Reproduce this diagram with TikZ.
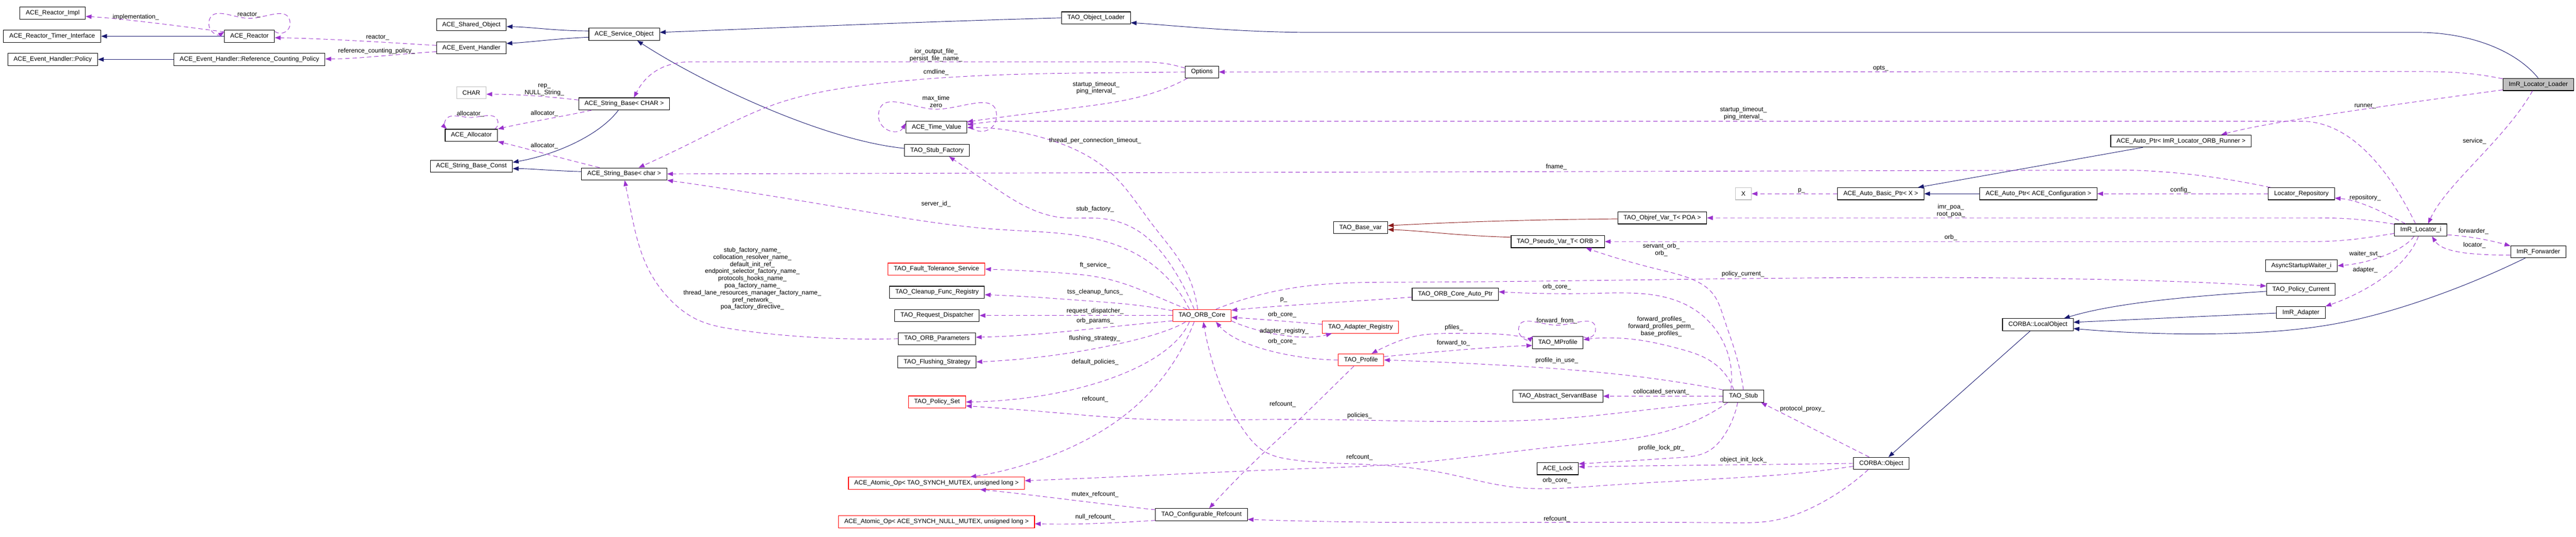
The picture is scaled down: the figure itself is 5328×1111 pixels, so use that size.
\documentclass[tikz,border=0pt]{standalone}
\usepackage{fontspec}
\setmainfont{Liberation Sans}
\usepackage{tikz}
\usetikzlibrary{arrows.meta,calc,hobby}

\definecolor{inhcol}{HTML}{191970}
\definecolor{depcol}{HTML}{9A32CD}
\definecolor{tmplcol}{HTML}{8B1A1A}
\definecolor{grycol}{HTML}{BFBFBF}

\tikzset{
  cls/.style={draw=black,fill=white,line width=1.2pt,minimum height=25pt,
              inner xsep=12pt,inner ysep=0pt,font=\fontsize{13}{15}\selectfont},
  redcls/.style={cls,draw=red},
  grycls/.style={cls,draw=grycol},
  rootcls/.style={cls,fill=grycol},
  lbl/.style={inner sep=0pt,align=center,font=\fontsize{13}{14.7}\selectfont},
  tip/.style={-{Triangle[length=12pt,width=9pt]}},
  inh/.style={tip,draw=inhcol,line width=1pt},
  tmpl/.style={tip,draw=tmplcol,line width=1pt},
  dep/.style={tip,draw=depcol,line width=1pt,dash pattern=on 9pt off 6pt},
}

\begin{document}
\begin{tikzpicture}[x=1pt,y=-1pt]
\useasboundingbox (0,0) rectangle (5328,1111);
%
% classes
  \node[cls] (rimpl) at (109,27) {ACE\_Reactor\_Impl};
  \node[cls] (rtimer) at (108,75) {ACE\_Reactor\_Timer\_Interface};
  \node[cls] (ehpol) at (109,123) {ACE\_Event\_Handler::Policy};
  \node[cls] (reactor) at (516,75) {ACE\_Reactor};
  \node[cls] (rcpol) at (516,123) {ACE\_Event\_Handler::Reference\_Counting\_Policy};
  \node[cls] (shobj) at (975,51) {ACE\_Shared\_Object};
  \node[cls] (evh) at (975,99) {ACE\_Event\_Handler};
  \node[grycls] (chr) at (975,192) {CHAR};
  \node[cls] (alloc) at (975,280) {ACE\_Allocator};
  \node[cls] (sbconst) at (975,344) {ACE\_String\_Base\_Const};
  \node[cls] (svcobj) at (1291,71) {ACE\_Service\_Object};
  \node[cls] (sbCHAR) at (1291,215) {ACE\_String\_Base< CHAR >};
  \node[cls] (sbchar) at (1291,360) {ACE\_String\_Base< char >};
  \node[cls] (tvalue) at (1937,263) {ACE\_Time\_Value};
  \node[cls] (stubfac) at (1938,311) {TAO\_Stub\_Factory};
  \node[redcls] (ftserv) at (1937,557) {TAO\_Fault\_Tolerance\_Service};
  \node[cls] (cleanup) at (1938,605) {TAO\_Cleanup\_Func\_Registry};
  \node[cls] (reqdisp) at (1938,653) {TAO\_Request\_Dispatcher};
  \node[cls] (orbparams) at (1938,701) {TAO\_ORB\_Parameters};
  \node[cls] (flushing) at (1938,749) {TAO\_Flushing\_Strategy};
  \node[redcls] (polset) at (1938,832) {TAO\_Policy\_Set};
  \node[redcls] (atommx) at (1937,1000) {ACE\_Atomic\_Op< TAO\_SYNCH\_MUTEX, unsigned long >};
  \node[redcls] (atomnull) at (1937,1080) {ACE\_Atomic\_Op< ACE\_SYNCH\_NULL\_MUTEX, unsigned long >};
  \node[cls] (objloader) at (2267,37) {TAO\_Object\_Loader};
  \node[cls] (options) at (2486,149) {Options};
  \node[redcls] (orbcore) at (2486,653) {TAO\_ORB\_Core};
  \node[cls] (cfgref) at (2485,1065) {TAO\_Configurable\_Refcount};
  \node[cls] (basevar) at (2814,471) {TAO\_Base\_var};
  \node[redcls] (adreg) at (2814,677) {TAO\_Adapter\_Registry};
  \node[redcls] (profile) at (2815,745) {TAO\_Profile};
  \node[cls] (autoptr) at (3010,609) {TAO\_ORB\_Core\_Auto\_Ptr};
  \node[cls] (pseudovar) at (3222,500) {TAO\_Pseudo\_Var\_T< ORB >};
  \node[cls] (mprofile) at (3222,709) {TAO\_MProfile};
  \node[cls] (servbase) at (3222,820) {TAO\_Abstract\_ServantBase};
  \node[cls] (acelock) at (3222,970) {ACE\_Lock};
  \node[cls] (objrefvar) at (3438,451) {TAO\_Objref\_Var\_T< POA >};
  \node[grycls] (xnode) at (3606,401) {X};
  \node[cls] (stub) at (3606,820) {TAO\_Stub};
  \node[cls] (autobasic) at (3890,401) {ACE\_Auto\_Basic\_Ptr< X >};
  \node[cls] (corbaobj) at (3891,959) {CORBA::Object};
  \node[cls] (autocfg) at (4216,401) {ACE\_Auto\_Ptr< ACE\_Configuration >};
  \node[cls] (localobj) at (4215,672) {CORBA::LocalObject};
  \node[cls] (autorunner) at (4511,292) {ACE\_Auto\_Ptr< ImR\_Locator\_ORB\_Runner >};
  \node[cls] (locrepo) at (4760,401) {Locator\_Repository};
  \node[cls] (waiter) at (4760,550) {AsyncStartupWaiter\_i};
  \node[cls] (polcur) at (4759,599) {TAO\_Policy\_Current};
  \node[cls] (imradapter) at (4759,647) {ImR\_Adapter};
  \node[cls] (locator) at (5007,476) {ImR\_Locator\_i};
  \node[rootcls] (loader) at (5250,175) {ImR\_Locator\_Loader};
  \node[cls] (forwarder) at (5250,521) {ImR\_Forwarder};
%
% inheritance
  \draw[inh] (reactor) -- (rtimer);
  \draw[inh] (rcpol) -- (ehpol);
  \draw[inh] ($(svcobj.west)+(0,-7)$) .. controls (1150,64) and (1100,56) .. ($(shobj.east)+(0,4)$);
  \draw[inh] ($(svcobj.west)+(0,6)$) .. controls (1150,80) and (1100,87) .. ($(evh.east)+(0,-9)$);
  \draw[inh] (objloader.west) .. controls (1900,45) and (1600,58) .. ($(svcobj.east)+(0,-4)$);
  \draw[inh] ($(stubfac.west)+(0,-4)$) .. controls (1700,290) and (1450,170) .. ($(svcobj.south)+(27,0)$);
  \draw[inh] ($(sbCHAR.south)+(-12,0)$) .. controls (1240,280) and (1150,320) .. ($(sbconst.east)+(0,-8)$);
  \draw[inh] ($(sbchar.west)+(0,-5)$) .. controls (1150,354) and (1100,349) .. ($(sbconst.east)+(0,5)$);
  \draw[inh] (loader.north) .. controls (5200,100) and (5100,67) .. (5000,67) -- (2700,67)
             .. controls (2550,66) and (2420,52) .. ($(objloader.east)+(0,10)$);
  \draw[inh] ($(autorunner.south)+(-79,0)$) -- ($(autobasic.north)+(77,0)$);
  \draw[inh] (autocfg) -- (autobasic);
  \draw[inh] ($(polcur.west)+(0,4)$) .. controls (4550,612) and (4380,625) .. ($(localobj.north)+(54,0)$);
  \draw[inh] ($(imradapter.west)+(0,1)$) .. controls (4550,655) and (4400,662) .. ($(localobj.east)+(0,-5)$);
  \draw[inh] ($(forwarder.south)+(-27,0)$) to[curve through={(5010,622) .. (4831,670) .. (4618,690) .. (4460,690)}] ($(localobj.east)+(0,8)$);
  \draw[inh] ($(localobj.south)+(-16,0)$) -- ($(corbaobj.north)+(15,0)$);
  \draw[tmpl] ($(objrefvar.west)+(0,2)$) .. controls (3100,455) and (2950,463) .. ($(basevar.east)+(0,-4)$);
  \draw[tmpl] ($(pseudovar.west)+(0,-9)$) .. controls (3000,487) and (2950,478) .. ($(basevar.east)+(0,4)$);
%
% members
  \draw[dep] ($(reactor.west)+(0,-9)$) .. controls (380,55) and (250,38) .. ($(rimpl.east)+(0,7)$);
  \draw[dep] ($(reactor.east)+(0,-10)$) to[curve through={(600,47) .. (516,38) .. (432,46)}] ($(reactor.west)+(0,-9)$);
  \draw[dep] ($(evh.west)+(0,-5)$) .. controls (800,88) and (680,80) .. ($(reactor.east)+(0,3)$);
  \draw[dep] ($(evh.west)+(0,8)$) .. controls (820,112) and (740,122) .. ($(rcpol.east)+(0,-1)$);
  \draw[dep] ($(sbCHAR.west)+(0,-8)$) .. controls (1120,198) and (1060,195) .. ($(chr.east)+(0,3)$);
  \draw[dep] ($(sbCHAR.south west)+(27,0)$) .. controls (1170,240) and (1080,255) .. (alloc.north east);
  \draw[dep] ($(alloc.north east)+(-7,0)$) to[curve through={(1030,252) .. (975,243) .. (920,252)}] ($(alloc.north west)+(4,0)$);
  \draw[dep] ($(sbchar.north)+(-51,0)$) .. controls (1170,330) and (1080,305) .. (alloc.south east);
  \draw[dep] ($(options.west)+(0,-8)$) .. controls (2420,132) and (2400,128) .. (2350,128) -- (1430,128)
             .. controls (1360,128) and (1330,165) .. ($(sbCHAR.north)+(20,0)$);
  \draw[dep] (options.west) to[curve through={(2354,150) .. (2067,155) .. (1790,176) .. (1608,214) .. (1435,293)}] ($(sbchar.north)+(30,0)$);
  \draw[dep] ($(options.south west)+(5,0)$) to[curve through={(2383,193) .. (2239,221) .. (2067,243)}] ($(tvalue.east)+(0,-11)$);
  \draw[dep] ($(tvalue.east)+(0,-13)$) to[curve through={(2061,243) .. (1935,226) .. (1817,237)}] ($(tvalue.west)+(0,-8)$);
  \draw[dep] ($(locator.north)+(-11,0)$) .. controls (4960,390) and (4880,251) .. (4760,251) -- (2080,251)
             .. controls (2040,251) and (2020,256) .. ($(tvalue.east)+(0,-5)$);
  \draw[dep] ($(orbcore.north)+(-9,0)$) to[curve through={(2452,560) .. (2383,464) .. (2297,357) .. (2170,289)}] ($(tvalue.east)+(0,1)$);
  \draw[dep] ($(orbcore.north)+(-16,0)$) to[curve through={(2429,560) .. (2354,478) .. (2285,453) .. (2193,450) .. (2038,375)}] ($(stubfac.south)+(25,0)$);
  \draw[dep] ($(orbcore.north)+(-26,0)$) to[curve through={(2354,528) .. (2067,475) .. (1790,438) .. (1579,403)}] (sbchar.south east);
  \draw[dep] ($(orbcore.north west)+(30,0)$) to[curve through={(2412,622) .. (2297,579) .. (2182,564)}] (ftserv.east);
  \draw[dep] ($(orbcore.west)+(0,-10)$) to[curve through={(2354,632) .. (2239,622) .. (2124,614)}] ($(cleanup.east)+(0,5)$);
  \draw[dep] (orbcore) -- (reqdisp);
  \draw[dep] ($(orbcore.west)+(0,11)$) .. controls (2250,680) and (2150,695) .. ($(orbparams.east)+(0,-3)$);
  \draw[dep] ($(orbcore.south west)+(27,0)$) .. controls (2400,700) and (2200,742) .. (flushing.east);
  \draw[dep] ($(orbcore.south)+(-26,0)$) .. controls (2420,760) and (2220,828) .. (polset.east);
  \draw[dep] ($(stub.south west)+(0,-2)$) to[curve through={(3416,847) .. (3244,865) .. (2670,868) .. (2354,867) .. (2182,854)}] ($(polset.east)+(0,8)$);
  \draw[dep] ($(orbcore.south)+(-16,0)$) to[curve through={(2440,729) .. (2354,836) .. (2182,940)}] ($(atommx.north)+(70,0)$);
  \draw[dep] ($(stub.south west)+(10,0)$) to[curve through={(3474,884) .. (3244,922) .. (2900,960) .. (2670,971) .. (2354,985)}] ($(atommx.east)+(0,-5)$);
  \draw[dep] ($(cfgref.west)+(0,-10)$) .. controls (2250,1040) and (2120,1022) .. ($(atommx.south)+(90,0)$);
  \draw[dep] ($(cfgref.west)+(0,12)$) .. controls (2300,1083) and (2220,1086) .. ($(atomnull.east)+(0,4)$);
  \draw[dep] ($(profile.south)+(-15,0)$) to[curve through={(2739,818) .. (2675,880) .. (2618,933)}] ($(cfgref.north)+(16,0)$);
  \draw[dep] ($(corbaobj.south)+(-27,0)$) to[curve through={(3761,1044) .. (3675,1076) .. (3570,1082) .. (3244,1081) .. (2680,1078)}] ($(cfgref.east)+(0,10)$);
  \draw[dep] ($(corbaobj.west)+(0,6)$) to[curve through={(3732,978) .. (3570,990) .. (3301,1006) .. (3129,1008) .. (2986,979) .. (2842,962) .. (2670,951) .. (2618,936) .. (2572,890) .. (2515,772)}] ($(orbcore.south)+(3,0)$);
  \draw[dep] (corbaobj.west) .. controls (3700,961) and (3400,964) .. ($(acelock.east)+(0,-4)$);
  \draw[dep] ($(stub.south)+(-12,0)$) to[curve through={(3570,895) .. (3531,935) .. (3474,947)}] ($(acelock.east)+(0,-10)$);
  \draw[dep] ($(corbaobj.north)+(-25,0)$) -- ($(stub.south east)+(-6,0)$);
  \draw[dep] (stub) -- (servbase);
  \draw[dep] (stub.north west) to[curve through={(3416,783) .. (3244,765) .. (3072,754)}] (profile.east);
  \draw[dep] ($(stub.north)+(-20,0)$) to[curve through={(3560,765) .. (3531,743) .. (3474,722) .. (3376,702)}] ($(mprofile.east)+(0,-6)$);
  \draw[dep] ($(mprofile.north east)+(0,1)$) to[curve through={(3300,684) .. (3221,673) .. (3141,684)}] ($(mprofile.north west)+(2,0)$);
  \draw[dep] ($(mprofile.west)+(0,-8)$) to[curve through={(3118,693) .. (3014,690) .. (2922,697) .. (2871,715)}] ($(profile.north)+(22,0)$);
  \draw[dep] ($(profile.east)+(0,-7)$) .. controls (2950,730) and (3080,718) .. ($(mprofile.west)+(0,6)$);
  \draw[dep] (profile.west) .. controls (2690,745) and (2560,720) .. ($(orbcore.south east)+(-32,0)$);
  \draw[dep] ($(adreg.west)+(0,-6)$) .. controls (2680,667) and (2600,660) .. ($(orbcore.east)+(0,4)$);
  \draw[dep] ($(orbcore.east)+(0,11)$) .. controls (2590,685) and (2690,708) .. ($(adreg.south west)+(20,0)$);
  \draw[dep] ($(autoptr.west)+(0,6)$) .. controls (2800,624) and (2650,632) .. ($(orbcore.east)+(0,-11)$);
  \draw[dep] ($(orbcore.north)+(29,0)$) to[curve through={(2680,595) .. (2900,584) .. (3570,577) .. (4450,581) .. (4562,585)}] ($(polcur.west)+(0,-7)$);
  \draw[dep] ($(stub.north)+(-26,0)$) to[curve through={(3560,700) .. (3502,639) .. (3301,607)}] ($(autoptr.east)+(0,-5)$);
  \draw[dep] (stub.north) to[curve through={(3589,729) .. (3565,657) .. (3542,607) .. (3502,579) .. (3428,557)}] ($(pseudovar.south)+(58,0)$);
  \draw[dep] ($(locator.west)+(0,-12)$) .. controls (4880,452) and (4840,451) .. (4780,451) -- (objrefvar.east);
  \draw[dep] ($(locator.west)+(0,7)$) .. controls (4880,495) and (4840,500) .. (4780,500) -- (pseudovar.east);
  \draw[dep] (autobasic) -- (xnode);
  \draw[dep] (locrepo) -- (autocfg);
  \draw[dep] ($(locrepo.north west)+(5,0)$) .. controls (4620,372) and (4520,355) .. (4400,352) -- (sbchar.east);
  \draw[dep] ($(locator.north)+(-32,0)$) .. controls (4930,440) and (4880,414) .. ($(locrepo.east)+(0,9)$);
  \draw[dep] ($(loader.west)+(0,-12)$) .. controls (5120,152) and (5080,148) .. (5000,148) -- (options.east);
  \draw[dep] ($(loader.west)+(0,11)$) .. controls (5000,210) and (4700,250) .. ($(autorunner.north)+(83,0)$);
  \draw[dep] ($(loader.south)+(-12,0)$) .. controls (5180,290) and (5060,380) .. ($(locator.north)+(15,0)$);
  \draw[dep] ($(locator.east)+(0,10)$) .. controls (5120,490) and (5160,500) .. ($(forwarder.north west)+(0,1)$);
  \draw[dep] ($(forwarder.west)+(0,7)$) .. controls (5100,528) and (5050,520) .. ($(locator.south)+(23,0)$);
  \draw[dep] ($(locator.south)+(-14,0)$) .. controls (4970,520) and (4900,545) .. (waiter.east);
  \draw[dep] ($(locator.south)+(-5,0)$) .. controls (4975,560) and (4880,610) .. (imradapter.north east);
  \draw[dep] (orbparams.west) to[curve through={(1636,695) .. (1521,682) .. (1441,661) .. (1384,618) .. (1343,561) .. (1303,428)}] ($(sbchar.south)+(1,0)$);
%
% member names
  \node[lbl] (limpl) at (281,36) {implementation\_};
  \node[lbl] (lreact1) at (515,31) {reactor\_};
  \node[lbl] (lreact2) at (781,78) {reactor\_};
  \node[lbl] (lrcpol) at (779,106) {reference\_counting\_policy\_};
  \node[lbl] (lrep) at (1126,186) {rep\_\\NULL\_String\_};
  \node[lbl] (lalloc1) at (1126,235) {allocator\_};
  \node[lbl] (lalloc2) at (973,236) {allocator\_};
  \node[lbl] (lalloc3) at (1126,302) {allocator\_};
  \node[lbl] (lior) at (1936,114) {ior\_output\_file\_\\persist\_file\_name\_};
  \node[lbl] (lcmd) at (1936,149) {cmdline\_};
  \node[lbl] (lstart1) at (2267,182) {startup\_timeout\_\\ping\_interval\_};
  \node[lbl] (lmax) at (1936,210) {max\_time\\zero};
  \node[lbl] (lstart2) at (3606,235) {startup\_timeout\_\\ping\_interval\_};
  \node[lbl] (ltpct) at (2265,291) {thread\_per\_connection\_timeout\_};
  \node[lbl] (lsrvid) at (1936,422) {server\_id\_};
  \node[lbl] (lstubf) at (2265,433) {stub\_factory\_};
  \node[lbl] (lft) at (2265,549) {ft\_service\_};
  \node[lbl] (ltss) at (2265,605) {tss\_cleanup\_funcs\_};
  \node[lbl] (lreqd) at (2265,644) {request\_dispatcher\_};
  \node[lbl] (lorbp) at (2265,664) {orb\_params\_};
  \node[lbl] (lflush) at (2264,700) {flushing\_strategy\_};
  \node[lbl] (ldefpol) at (2265,750) {default\_policies\_};
  \node[lbl] (lref1) at (2265,826) {refcount\_};
  \node[lbl] (lpol) at (2812,860) {policies\_};
  \node[lbl] (lref2) at (2812,947) {refcount\_};
  \node[lbl] (lmutex) at (2265,1023) {mutex\_refcount\_};
  \node[lbl] (lnull) at (2265,1070) {null\_refcount\_};
  \node[lbl] (lref3) at (2653,837) {refcount\_};
  \node[lbl] (lref4) at (3220,1074) {refcount\_};
  \node[lbl] (lcore1) at (3220,995) {orb\_core\_};
  \node[lbl] (linit) at (3606,952) {object\_init\_lock\_};
  \node[lbl] (llockp) at (3436,927) {profile\_lock\_ptr\_};
  \node[lbl] (lproxy) at (3728,846) {protocol\_proxy\_};
  \node[lbl] (lcoll) at (3436,811) {collocated\_servant\_};
  \node[lbl] (linuse) at (3220,746) {profile\_in\_use\_};
  \node[lbl] (lfwdp) at (3436,676) {forward\_profiles\_\\forward\_profiles\_perm\_\\base\_profiles\_};
  \node[lbl] (lfrom) at (3220,664) {forward\_from\_};
  \node[lbl] (lpfiles) at (3007,678) {pfiles\_};
  \node[lbl] (lfwdto) at (3006,710) {forward\_to\_};
  \node[lbl] (lcore2) at (2652,707) {orb\_core\_};
  \node[lbl] (lcore3) at (2652,651) {orb\_core\_};
  \node[lbl] (ladreg) at (2656,686) {adapter\_registry\_};
  \node[lbl] (lp1) at (2655,621) {p\_};
  \node[lbl] (lpcur) at (3605,567) {policy\_current\_};
  \node[lbl] (lcore4) at (3220,594) {orb\_core\_};
  \node[lbl] (lsorb) at (3436,517) {servant\_orb\_\\orb\_};
  \node[lbl] (lpoa) at (4035,436) {imr\_poa\_\\root\_poa\_};
  \node[lbl] (lorb) at (4035,492) {orb\_};
  \node[lbl] (lp2) at (3726,395) {p\_};
  \node[lbl] (lcfg) at (4510,394) {config\_};
  \node[lbl] (lfname) at (3219,346) {fname\_};
  \node[lbl] (lrepo) at (4892,410) {repository\_};
  \node[lbl] (lopts) at (3890,142) {opts\_};
  \node[lbl] (lrunner) at (4892,220) {runner\_};
  \node[lbl] (lsvc) at (5118,292) {service\_};
  \node[lbl] (lfwd) at (5116,479) {forwarder\_};
  \node[lbl] (lloc) at (5118,507) {locator\_};
  \node[lbl] (lwait) at (4892,526) {waiter\_svt\_};
  \node[lbl] (ladapt) at (4892,559) {adapter\_};
  \node[lbl] (lnames) at (1556,577) {stub\_factory\_name\_\\collocation\_resolver\_name\_\\default\_init\_ref\_\\endpoint\_selector\_factory\_name\_\\protocols\_hooks\_name\_\\poa\_factory\_name\_\\thread\_lane\_resources\_manager\_factory\_name\_\\pref\_network\_\\poa\_factory\_directive\_};

\end{tikzpicture}
\end{document}
